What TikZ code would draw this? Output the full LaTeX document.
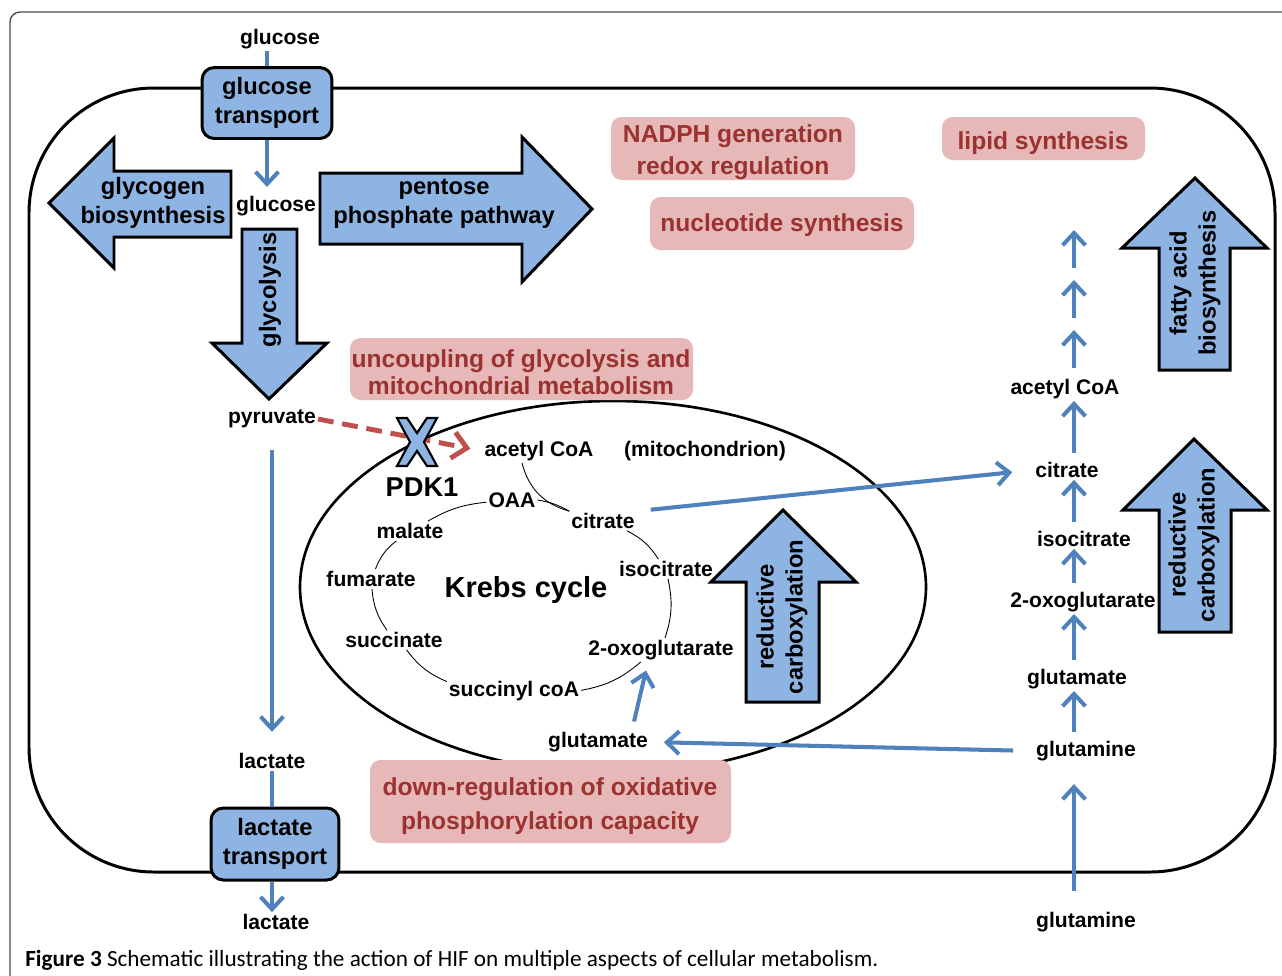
\documentclass[tikz,border=0pt]{standalone}
\usepackage{fontspec}
\setmainfont{Liberation Sans}
\newfontfamily\capfont{Carlito}
\usetikzlibrary{arrows.meta}

\definecolor{arrowblue}{RGB}{142,180,227}
\definecolor{lineblue}{RGB}{79,129,189}
\definecolor{pinkfill}{RGB}{230,185,184}
\definecolor{pinktext}{RGB}{155,50,48}
\definecolor{dashred}{RGB}{192,80,77}

\tikzset{
  lbl/.style={font=\fontsize{12}{14}\selectfont\bfseries, inner sep=1pt},
  transbox/.style={draw, line width=1.7pt, fill=arrowblue, rounded corners=7pt, align=center,
    font=\fontsize{13.5}{16.5}\selectfont\bfseries, minimum width=2.6cm, minimum height=1.42cm},
  bigarrow/.style={draw, line width=1.7pt, fill=arrowblue, line join=miter},
  bigtxt/.style={align=center, font=\fontsize{13.5}{16.5}\selectfont\bfseries, inner sep=0pt},
  pinkbg/.style={fill=pinkfill, rounded corners=6pt},
  pinktxt/.style={text=pinktext, align=center, inner sep=0pt},
  flowline/.style={draw=lineblue, line width=2.3pt},
  flow/.style={flowline, -{Straight Barb[length=7pt,width=13pt]}},
  cyc/.style={draw, line width=0.5pt},
}

\begin{document}
\begin{tikzpicture}[x=0.02cm, y=-0.02cm]

	\useasboundingbox (0,0) rectangle (1282,975);
	\clip (0,0) rectangle (1282,975);
	\fill[white] (0,0) rectangle (1282,975);

	% frame of the figure
	\draw[gray!60!black, line width=0.8pt, rounded corners=0.2cm] (10,1100) -- (10,12) -- (1400,12);

	% cell
	\draw[line width=1.7pt, rounded corners=2.5cm] (29,88) rectangle (1275,872);

	% mitochondrion
	\draw[line width=1.5pt] (613,587) ellipse [x radius=313, y radius=186];

	% pink boxes
	\fill[pinkbg] (611,117) rectangle (855,180);
	\node[pinktxt, font=\fontsize{14}{18.5}\selectfont\bfseries] (nadph) at (733,152) {NADPH generation\\redox regulation};
	\fill[pinkbg] (650,197) rectangle (914,250);
	\node[pinktxt, font=\fontsize{14}{17}\selectfont\bfseries] (nucl) at (782,225) {nucleotide synthesis};
	\fill[pinkbg] (942,117) rectangle (1145,160);
	\node[pinktxt, font=\fontsize{14}{17}\selectfont\bfseries] (lipid) at (1043,143) {lipid synthesis};
	\fill[pinkbg] (350,338) rectangle (693,400);
	\node[pinktxt, font=\fontsize{14}{15.5}\selectfont\bfseries] (uncoup) at (521,372) {uncoupling of glycolysis and\\mitochondrial metabolism};
	\fill[pinkbg] (370,760) rectangle (731,843);
	\node[pinktxt, font=\fontsize{14}{19.5}\selectfont\bfseries] (downreg) at (550,806) {down-regulation of oxidative\\phosphorylation capacity};

	% big arrows
	\draw[bigarrow] (231,171) -- (114,171) -- (114,138) -- (49,203) -- (114,268) -- (114,237) -- (231,237) -- cycle;
	\node[bigtxt] (glycogen) at (153,203) {glycogen\\biosynthesis};
	\draw[bigarrow] (320,173) -- (522,173) -- (522,137) -- (592,209) -- (522,282) -- (522,244) -- (320,244) -- cycle;
	\node[bigtxt] (pentose) at (444,204) {pentose\\phosphate pathway};
	\draw[bigarrow] (242,229) -- (297,229) -- (297,343) -- (327,343) -- (269,399) -- (212,343) -- (242,343) -- cycle;
	\node[bigtxt, rotate=90] (glyco) at (270,290) {glycolysis};
	\draw[bigarrow] (746,702) -- (746,582) -- (711,582) -- (783,510) -- (856,582) -- (819,582) -- (819,702) -- cycle;
	\node[bigtxt, rotate=90] (redin) at (782,617) {reductive\\carboxylation};
	\draw[bigarrow] (1159,370) -- (1159,248) -- (1122,248) -- (1195,178) -- (1267,248) -- (1230,248) -- (1230,370) -- cycle;
	\node[bigtxt, rotate=90] (fatty) at (1195,283) {fatty acid\\biosynthesis};
	\draw[bigarrow] (1159,632) -- (1159,510) -- (1123,510) -- (1194,439) -- (1267,510) -- (1231,510) -- (1231,632) -- cycle;
	\node[bigtxt, rotate=90] (redout) at (1194,545) {reductive\\carboxylation};

	% transporters
	\node[transbox] (gtrans) at (267,103) {glucose\\transport};
	\node[transbox, minimum width=2.56cm, minimum height=1.44cm] (ltrans) at (275,844) {lactate\\transport};

	% left column
	\node[lbl] (glucout) at (280,39) {glucose};
	\node[lbl] (glucin) at (276,206) {glucose};
	\node[lbl] (pyruvate) at (272,419) {pyruvate};
	\node[lbl] (lactin) at (272,761) {lactate};
	\node[lbl] (lactout) at (276,922) {lactate};

	\draw[flowline] (glucout.south -| gtrans) -- (gtrans.north);
	\draw[flow, shorten >=4pt] (gtrans.south) -- (gtrans |- glucin.north);
	\draw[flow, shorten <=11pt, shorten >=11pt] (pyruvate.south) -- (lactin.north);
	\draw[flowline] (lactin.south) -- (lactin |- ltrans.north);
	\draw[flow] (lactin |- ltrans.south) -- (lactout.north -| lactin);

	% Krebs cycle
	\node[lbl] (acetyl) at (539,451) {acetyl CoA};
	\node[lbl] (mito) at (705,451) {(mitochondrion)};
	\node[lbl] (oaa) at (512,500) {OAA};
	\node[lbl] (citrate) at (603,521) {citrate};
	\node[lbl] (malate) at (410,531) {malate};
	\node[lbl] (isocit) at (666,569) {isocitrate};
	\node[lbl] (fumarate) at (371,579) {fumarate};
	\node[font=\fontsize{16.5}{18}\selectfont\bfseries] (krebs) at (526,590) {Krebs cycle};
	\node[lbl] (succinate) at (394,640) {succinate};
	\node[lbl] (oxo) at (661,650) {2-oxoglutarate};
	\node[lbl] (succinyl) at (514,691) {succinyl coA};
	\node[lbl] (glutamate) at (598,742) {glutamate};

	\draw[cyc] ([xshift=-0.34cm]acetyl.south) to[bend right=30] (citrate.north west);
	\draw[cyc] (oaa.east) to[bend left=10] (citrate.north west);
	\draw[cyc] (citrate) to[bend left=15] (isocit);
	\draw[cyc] (isocit) to[bend left=15] (oxo);
	\draw[cyc] (oxo) to[bend left=15] (succinyl);
	\draw[cyc] (succinyl) to[bend left=15] (succinate);
	\draw[cyc] (succinate) to[bend left=15] (fumarate);
	\draw[cyc] (fumarate) to[bend left=15] (malate);
	\draw[cyc] (malate) to[bend left=12] (oaa);

	\draw[flow, shorten <=5pt, shorten >=5pt] ([xshift=0.68cm]glutamate.north) -- ([xshift=-0.26cm]oxo.south);

	% right column
	\coordinate (colx) at (1074,0);
	\node[lbl] (racetyl) at (1065,389) {acetyl CoA};
	\node[lbl] (rcitrate) at (1067,470) {citrate};
	\node[lbl] (risocit) at (1084,539) {isocitrate};
	\node[lbl] (roxo) at (1083,602) {2-oxoglutarate};
	\node[lbl] (rglutamate) at (1077,679) {glutamate};
	\node[lbl] (rglutamine) at (1086,751) {glutamine};
	\node[lbl] (glutout) at (1086,922) {glutamine};

	\foreach \a/\b in {rglutamine/rglutamate, rglutamate/roxo, roxo/risocit, risocit/rcitrate, rcitrate/racetyl}
		\draw[flow, shorten <=4pt] (\a.north -| colx) -- (\b.south -| colx);
	\foreach \i/\y in {1/368,2/318,3/268} {
		\coordinate (fa\i) at (1074,\y);
		\coordinate (fb\i) at (1074,\y-38);
		\draw[flow] (fa\i) -- (fb\i);
	}
	\draw[flow, shorten <=11pt, shorten >=12pt] (glutout.north -| colx) -- (rglutamine.south -| colx);

	% exchange between compartments
	\draw[flow, shorten <=8pt, shorten >=12pt] (citrate.north east) -- (rcitrate.west);
	\draw[flow, shorten <=12pt, shorten >=8pt] (rglutamine.west) -- (glutamate.east);

	% blocked pyruvate entry
	\draw[dashred, line width=2.8pt, dash pattern=on 9pt off 5pt, -{Straight Barb[length=8pt,width=15pt]}, shorten >=7pt]
		(pyruvate.east) -- (acetyl.west);
	\begin{scope}[shift={(417,442)}]
		\draw[bigarrow, line width=1.2pt] (-20,-24) -- (-10,-24) -- (0,-9) -- (10,-24) -- (20,-24) -- (7,0) -- (20,24)
			-- (10,24) -- (0,9) -- (-10,24) -- (-20,24) -- (-7,0) -- cycle;
	\end{scope}
	\node[font=\fontsize{15.5}{18}\selectfont\bfseries] (pdk) at (422,487) {PDK1};

	% caption
	\node[anchor=base west, inner sep=0pt, font=\capfont\fontsize{13.2}{15}\selectfont] (caption) at (25,966)
		{\textbf{Figure 3} Schematic illustrating the action of HIF on multiple aspects of cellular metabolism.};

\end{tikzpicture}
\end{document}
